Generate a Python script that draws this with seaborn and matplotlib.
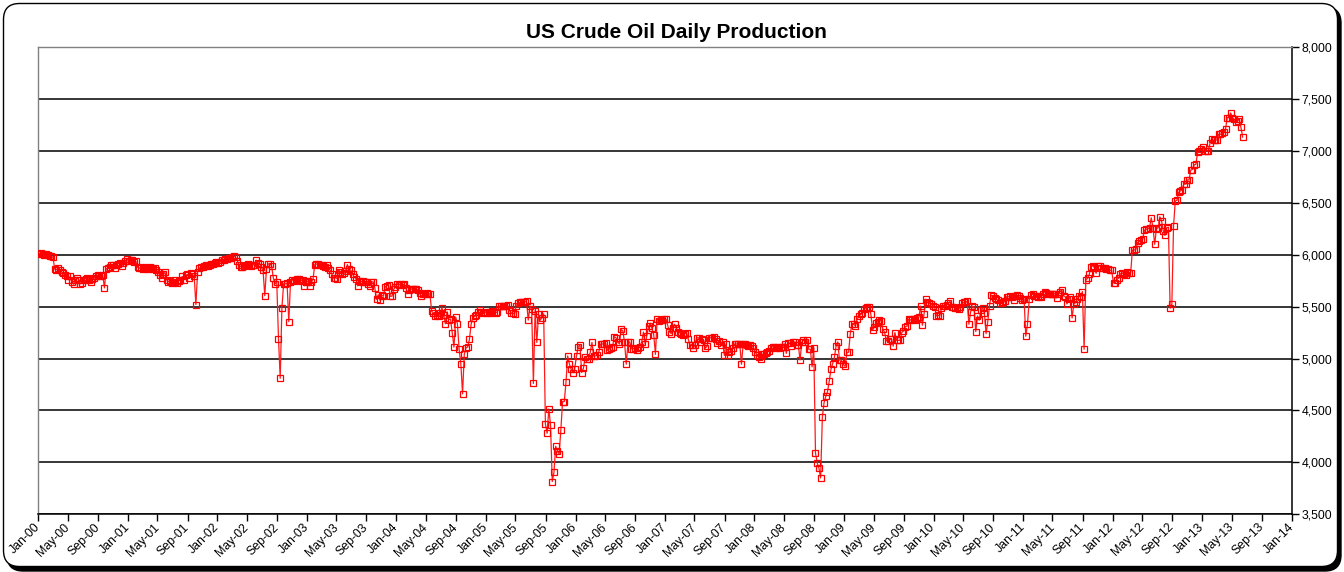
import numpy as np
import pandas as pd
import matplotlib
matplotlib.use("Agg")
import matplotlib.pyplot as plt
import matplotlib.dates as mdates
from matplotlib.patches import FancyBboxPatch
from matplotlib.transforms import IdentityTransform
from matplotlib.ticker import FuncFormatter, MultipleLocator
import seaborn as sns

# ---- data: weekly US crude oil production (thousand barrels/day) ----
v2000 = [6010, 6015, 6010, 6000, 6005, 5995, 5990, 5985, 5975, 5860, 5855, 5870, 5850,
         5835, 5820, 5800, 5790, 5760, 5790, 5740, 5715, 5760, 5780, 5760, 5720, 5730,
         5760, 5770, 5780, 5760, 5740, 5770, 5775, 5790, 5800, 5790, 5790, 5800, 5680,
         5865, 5870, 5880, 5900, 5905, 5870, 5900, 5915, 5920, 5890, 5920, 5935, 5955]
v2001 = [5940, 5950, 5945, 5930, 5935, 5880, 5870, 5875, 5860, 5880, 5870, 5865, 5880,
         5870, 5860, 5875, 5850, 5830, 5800, 5780, 5810, 5830, 5760, 5740, 5750, 5730,
         5760, 5740, 5730, 5750, 5760, 5790, 5760, 5800, 5810, 5780, 5820, 5810, 5790,
         5520, 5835, 5870, 5885, 5880, 5890, 5900, 5890, 5905, 5910, 5915, 5920, 5925]
v2002 = [5920, 5930, 5945, 5950, 5960, 5955, 5965, 5970, 5980, 5985, 5975, 5940, 5900,
         5885, 5880, 5895, 5905, 5910, 5900, 5895, 5905, 5900, 5945, 5920, 5915, 5880,
         5850, 5605, 5860, 5910, 5915, 5890, 5775, 5720, 5735, 5190, 4810, 5490, 5720,
         5720, 5725, 5355, 5735, 5760, 5750, 5760, 5770, 5765, 5750, 5760, 5700, 5740]
v2003 = [5745, 5700, 5735, 5765, 5905, 5910, 5915, 5900, 5905, 5890, 5880, 5900, 5870,
         5850, 5810, 5775, 5780, 5770, 5855, 5830, 5815, 5820, 5840, 5905, 5860, 5850,
         5815, 5785, 5770, 5700, 5745, 5740, 5745, 5735, 5740, 5720, 5700, 5735, 5740,
         5680, 5570, 5615, 5560, 5610, 5600, 5690, 5700, 5710, 5600, 5600, 5665, 5690]
v2004 = [5720, 5710, 5720, 5705, 5715, 5680, 5625, 5660, 5670, 5670, 5665, 5670, 5660,
         5630, 5600, 5620, 5625, 5630, 5625, 5620, 5455, 5440, 5405, 5420, 5405, 5440,
         5490, 5420, 5335, 5450, 5375, 5380, 5245, 5110, 5400, 5335, 5090, 4950, 4660,
         5040, 5105, 5110, 5185, 5330, 5395, 5405, 5415, 5450, 5470, 5445, 5440, 5450]
v2005 = [5440, 5445, 5440, 5460, 5445, 5440, 5450, 5505, 5505, 5510, 5510, 5505, 5515,
         5470, 5435, 5440, 5425, 5510, 5530, 5540, 5545, 5540, 5545, 5550, 5370, 5505,
         5475, 4760, 5460, 5155, 5425, 5370, 5395, 5430, 4370, 4280, 4515, 4360, 3815,
         3905, 4155, 4110, 4080, 4310, 4585, 4585, 4770, 5025, 4945, 4895, 4865, 4895]
v2006 = [5025, 5115, 5130, 4865, 4905, 5010, 4995, 5000, 5060, 5155, 5025, 5025, 5030,
         5065, 5140, 5140, 5140, 5145, 5080, 5090, 5105, 5110, 5210, 5200, 5160, 5140,
         5280, 5265, 5155, 4945, 5155, 5160, 5095, 5095, 5105, 5080, 5105, 5115, 5160,
         5255, 5140, 5220, 5310, 5340, 5290, 5230, 5040, 5385, 5365, 5375, 5375, 5380]
v2007 = [5380, 5320, 5260, 5240, 5290, 5330, 5290, 5255, 5250, 5235, 5225, 5240, 5250,
         5185, 5130, 5135, 5105, 5135, 5200, 5200, 5160, 5185, 5175, 5100, 5120, 5200,
         5200, 5200, 5205, 5190, 5145, 5170, 5130, 5160, 5030, 5140, 5030, 5065, 5075,
         5105, 5140, 5140, 5140, 5140, 4945, 5140, 5140, 5130, 5125, 5130, 5120, 5105]
v2008 = [5060, 5030, 5010, 5000, 5040, 5045, 5050, 5065, 5075, 5105, 5115, 5110, 5105,
         5110, 5105, 5115, 5115, 5140, 5050, 5145, 5150, 5120, 5155, 5160, 5130, 5130,
         4985, 5155, 5180, 5160, 5180, 5090, 5090, 4920, 5105, 4090, 3995, 3945, 3850,
         4435, 4575, 4635, 4680, 4780, 4895, 4950, 5010, 5120, 5160, 4985, 4985, 4945]
v2009 = [4925, 5060, 5060, 5240, 5330, 5330, 5315, 5380, 5405, 5425, 5435, 5475, 5490,
         5500, 5500, 5425, 5275, 5300, 5340, 5355, 5370, 5360, 5280, 5255, 5170, 5170,
         5185, 5185, 5120, 5250, 5175, 5175, 5175, 5250, 5265, 5305, 5310, 5380, 5370,
         5380, 5385, 5370, 5395, 5400, 5505, 5320, 5430, 5570, 5540, 5530, 5525, 5510]
v2010 = [5500, 5410, 5415, 5410, 5485, 5505, 5505, 5520, 5535, 5550, 5500, 5495, 5485,
         5485, 5475, 5500, 5530, 5540, 5540, 5550, 5330, 5450, 5505, 5495, 5260, 5410,
         5370, 5465, 5490, 5440, 5240, 5355, 5510, 5610, 5600, 5580, 5570, 5560, 5530,
         5530, 5540, 5550, 5595, 5595, 5600, 5595, 5560, 5600, 5610, 5600, 5580, 5560]
v2011 = [5575, 5215, 5330, 5570, 5610, 5620, 5605, 5605, 5595, 5605, 5595, 5620, 5645,
         5635, 5625, 5620, 5625, 5625, 5625, 5585, 5625, 5645, 5660, 5605, 5595, 5525,
         5570, 5595, 5390, 5525, 5540, 5570, 5605, 5595, 5645, 5090, 5755, 5775, 5810,
         5885, 5895, 5875, 5820, 5895, 5895, 5870, 5870, 5870, 5860, 5860, 5850, 5850]
v2012 = [5730, 5730, 5760, 5775, 5815, 5825, 5815, 5805, 5830, 5825, 5825, 6045, 6045,
         6050, 6115, 6130, 6140, 6150, 6235, 6245, 6250, 6260, 6355, 6260, 6100, 6250,
         6260, 6365, 6325, 6230, 6185, 6260, 6265, 5485, 5525, 6280, 6515, 6525, 6600,
         6615, 6625, 6680, 6680, 6720, 6720, 6815, 6820, 6865, 6870, 6985, 7000, 7015]
v2013 = [7040, 7000, 7000, 7000, 7075, 7115, 7100, 7105, 7105, 7160, 7160, 7170,
         7180, 7210, 7320, 7320, 7365, 7320, 7305, 7275, 7290, 7305, 7225, 7130]

years = list(range(2000, 2014))
series = [v2000, v2001, v2002, v2003, v2004, v2005, v2006, v2007,
          v2008, v2009, v2010, v2011, v2012, v2013]

title = "US Crude Oil Daily Production"
y_ticks = [3500, 4000, 4500, 5000, 5500, 6000, 6500, 7000, 7500, 8000]

dates = []
vals = []
for yr, s in zip(years, series):
    dates.extend(pd.date_range(f"{yr}-01-05", periods=len(s), freq="7D"))
    vals.extend(s)
df = pd.DataFrame({"date": dates, "kbd": vals})

# ---- styling ----
sns.set_style("white")
plt.rcParams["font.family"] = ["Liberation Sans", "DejaVu Sans"]
plt.rcParams["text.color"] = "black"
plt.rcParams["xtick.color"] = "black"
plt.rcParams["ytick.color"] = "black"

W, H = 1344, 572
fig = plt.figure(figsize=(W / 100, H / 100), dpi=100)

# rounded frame with shadow (pixel coordinates)
shadow = FancyBboxPatch((7, 1), W - 10, H - 8,
                        boxstyle="round,pad=0,rounding_size=16",
                        transform=IdentityTransform(), facecolor="black",
                        edgecolor="black", zorder=0)
frame = FancyBboxPatch((3.5, 5.5), W - 10, H - 9,
                       boxstyle="round,pad=0,rounding_size=16",
                       transform=IdentityTransform(), facecolor="white",
                       edgecolor="black", linewidth=1.0, zorder=1)
fig.patches.extend([shadow, frame])

ax = fig.add_axes([38.3 / W, 1 - 514.3 / H, (1291.7 - 38.3) / W, (514.3 - 47) / H])
ax.set_facecolor("white")
ax.set_zorder(2)

sns.lineplot(data=df, x="date", y="kbd", ax=ax, color="#ff1a1a", linewidth=0.9,
             marker="s", markersize=4.4, markerfacecolor="none",
             markeredgecolor="red", markeredgewidth=0.9, zorder=3)

ax.set_xlim(pd.Timestamp("2000-01-01"), pd.Timestamp("2014-01-01"))
ax.set_ylim(3500, 8000)
ax.set_yticks(y_ticks)
ax.yaxis.set_major_formatter(FuncFormatter(lambda v, p: f"{v:,.0f}"))
ax.yaxis.tick_right()
ax.yaxis.set_label_position("right")

xt = pd.date_range("2000-01-01", "2014-01-01", freq="4MS")
ax.set_xticks(xt)
ax.set_xticklabels([d.strftime("%b-%y") for d in xt])
for lab in ax.get_xticklabels():
    lab.set_rotation(45)
    lab.set_ha("right")
    lab.set_va("center")
    lab.set_rotation_mode("anchor")

ax.tick_params(axis="x", direction="out", length=5, width=1, color="black",
               labelcolor="black", labelsize=8.8, pad=3, bottom=True)
ax.tick_params(axis="y", direction="out", length=5, width=1, color="black",
               labelcolor="black", labelsize=8.8, pad=2, right=True, left=False)

ax.grid(axis="y", color="black", linewidth=1.1)
ax.grid(axis="x", visible=False)
ax.set_axisbelow(True)

for side in ["top", "left"]:
    ax.spines[side].set_color("#808080")
    ax.spines[side].set_linewidth(1.0)
for side in ["right", "bottom"]:
    ax.spines[side].set_color("black")
    ax.spines[side].set_linewidth(1.1)
for s in ax.spines.values():
    s.set_visible(True)

ax.set_xlabel("")
ax.set_ylabel("")
legend = ax.get_legend()
if legend is not None:
    legend.remove()

fig.text(676 / W, 1 - 32 / H, title, ha="center", va="center",
         fontsize=15, fontweight="bold", color="black")

fig.savefig("out.png", dpi=100)
